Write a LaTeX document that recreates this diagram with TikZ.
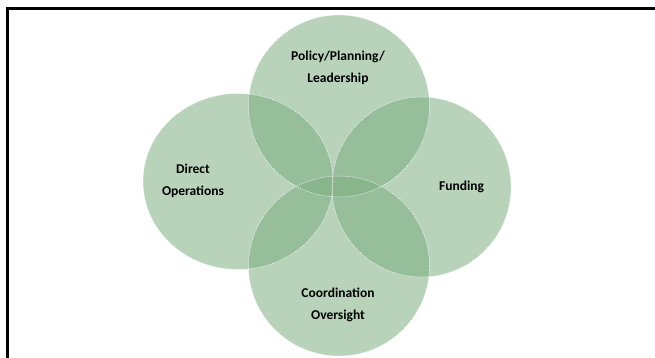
\documentclass[tikz,border=0pt]{standalone}
\usepackage{fontspec}
\setmainfont{Carlito}
\usetikzlibrary{shapes.geometric}
\definecolor{sage}{RGB}{124,174,129}
\tikzset{
  blob/.style={ellipse, inner sep=0pt, fill=sage, fill opacity=0.54, draw=none},
  outl/.style={draw=white, line width=0.5pt, dash pattern=on 1pt off 1pt},
  lbl/.style={align=center, font=\bfseries\fontsize{13.5}{21.5}\selectfont, text=black, inner sep=0pt}
}
\begin{document}
\begin{tikzpicture}[x=1pt,y=-1pt]
\useasboundingbox (0,0) rectangle (655,358);
\fill[white] (0,0) rectangle (655,358);
% frame
\coordinate (fbl) at (7.5,358);
\coordinate (ftl) at (7.5,8.5);
\coordinate (ftr) at (655,8.5);
\draw[black, line width=2.2pt] (fbl) -- (ftl) -- (ftr);
% circles
\node[blob, minimum width=181pt, minimum height=182pt] (cpol) at (339,106) {};
\node[blob, minimum width=190pt, minimum height=176pt] (cdir) at (238,181.5) {};
\node[blob, minimum width=179pt, minimum height=180pt] (cfun) at (421.5,187) {};
\node[blob, minimum width=181pt, minimum height=180pt] (ccoo) at (339,266) {};
% outlines
\draw[outl] (cpol.center) ellipse [x radius=90.5, y radius=91];
\draw[outl] (cdir.center) ellipse [x radius=95, y radius=88];
\draw[outl] (cfun.center) ellipse [x radius=89.5, y radius=90];
\draw[outl] (ccoo.center) ellipse [x radius=90.5, y radius=90];
% labels
\node[lbl] (tpol) at (338,68) {Policy/Planning/\\Leadership};
\node[lbl] (tdir) at (193,181) {Direct\\Operations};
\node[lbl] (tfun) at (461.5,187) {Funding};
\node[lbl] (tcoo) at (338,305) {Coordination\\Oversight};
\end{tikzpicture}
\end{document}
